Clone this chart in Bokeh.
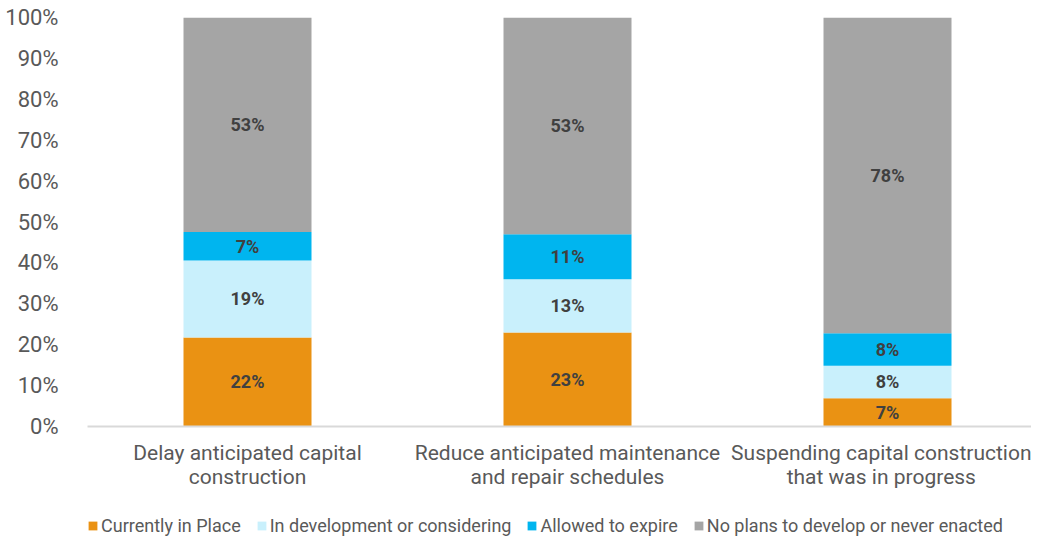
from bokeh.plotting import figure
from bokeh.layouts import column
from bokeh.models import ColumnDataSource, Range1d, FixedTicker, Legend, LegendItem
from bokeh.core.properties import value
from bokeh.embed import file_html
from bokeh.resources import INLINE

# ---- data ----
categories = [
    "Delay anticipated capital\nconstruction",
    "Reduce anticipated maintenance\nand repair schedules",
    "Suspending capital construction\nthat was in progress",
]
series_names = [
    "Currently in Place",
    "In development or considering",
    "Allowed to expire",
    "No plans to develop or never enacted",
]
currently_in_place = [22, 23, 7]
in_development = [19, 13, 8]
allowed_to_expire = [7, 11, 8]
no_plans = [53, 53, 78]
y_ticks = [0, 10, 20, 30, 40, 50, 60, 70, 80, 90, 100]

colors = ["#EA9213", "#C9F0FC", "#00B5EF", "#A5A5A5"]
FONT = "Roboto"

series_values = [currently_in_place, in_development, allowed_to_expire, no_plans]
n = len(categories)
totals = [sum(s[i] for s in series_values) for i in range(n)]
xs = [i + 0.5 for i in range(n)]

W = 1031
p = figure(width=W, height=494, output_backend="svg", toolbar_location=None,
           x_range=Range1d(0, 2.95), y_range=Range1d(0, 100),
           min_border_left=87, min_border_right=0, min_border_top=17, min_border_bottom=68)
p.outline_line_color = None
p.xgrid.visible = False
p.ygrid.visible = False

# legend strip below the chart
pl = figure(width=W, height=42, output_backend="svg", toolbar_location=None,
            x_range=Range1d(10, 11), y_range=Range1d(500, 501),
            x_axis_location=None, y_axis_location=None,
            min_border_left=0, min_border_right=0, min_border_top=0, min_border_bottom=0)
pl.xgrid.visible = False
pl.ygrid.visible = False
pl.outline_line_color = None

bottoms = [0.0] * n
legend_items = []
lx, ly, lt = [], [], []
for name, vals, col in zip(series_names, series_values, colors):
    shares = [v / t * 100 for v, t in zip(vals, totals)]
    tops = [b + s for b, s in zip(bottoms, shares)]
    src = ColumnDataSource(dict(x=xs, bottom=bottoms, top=tops))
    p.vbar(x="x", bottom="bottom", top="top", width=0.4, source=src,
           fill_color=col, line_color=None)
    # same series in the legend strip (outside its visible range)
    r2 = pl.vbar(x="x", bottom="bottom", top="top", width=0.4, source=src,
                 fill_color=col, line_color=None)
    legend_items.append(LegendItem(label=name, renderers=[r2]))
    for i in range(n):
        lx.append(xs[i])
        ly.append((bottoms[i] + tops[i]) / 2)
        lt.append(f"{vals[i]}%")
    bottoms = tops

p.text(x=lx, y=ly, text=lt, text_font=value(FONT), text_font_size="18px",
       text_font_style="bold", text_color="#404040", text_align="center",
       text_baseline="middle")

# axes
p.yaxis.ticker = FixedTicker(ticks=y_ticks)
p.yaxis.major_label_overrides = {t: f"{t}%" for t in y_ticks}
p.yaxis.axis_line_color = None
p.yaxis.major_tick_line_color = None
p.yaxis.minor_tick_line_color = None
p.yaxis.major_label_standoff = 23
p.yaxis.major_label_text_font = FONT
p.yaxis.major_label_text_font_size = "22px"
p.yaxis.major_label_text_color = "#595959"

p.xaxis.ticker = FixedTicker(ticks=xs)
p.xaxis.major_label_overrides = {x: c for x, c in zip(xs, categories)}
p.xaxis.axis_line_color = "#D9D9D9"
p.xaxis.axis_line_width = 2
p.xaxis.major_tick_line_color = None
p.xaxis.minor_tick_line_color = None
p.xaxis.major_label_standoff = 8
p.xaxis.major_label_text_font = FONT
p.xaxis.major_label_text_font_size = "21px"
p.xaxis.major_label_text_color = "#595959"
p.xaxis.major_label_text_line_height = 1.03

legend = Legend(items=legend_items, orientation="horizontal", location=(0, 0),
                label_text_font=FONT, label_text_font_size="18px",
                label_text_color="#595959", glyph_width=11, glyph_height=11,
                label_standoff=3, spacing=15, padding=0, margin=0,
                border_line_color=None, background_fill_alpha=0)
pl.add_layout(legend, "center")

layout = column(p, pl, spacing=0)
open("out.html", "w").write(file_html(layout, INLINE))
